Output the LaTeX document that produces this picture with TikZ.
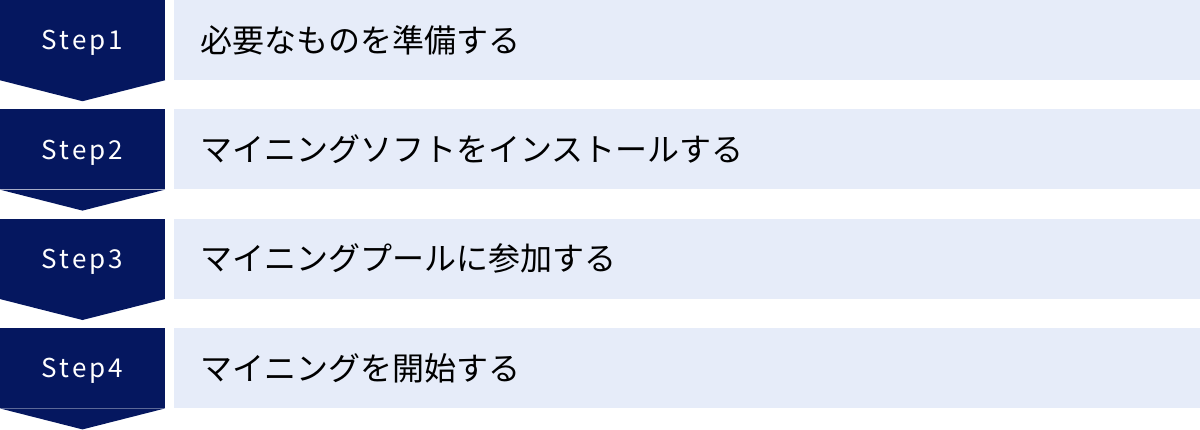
\documentclass[tikz,border=0pt]{standalone}
\usepackage{fontspec}
\setmainfont{Noto Sans CJK JP}
\newfontfamily\stepfont[LetterSpace=12]{Noto Sans CJK JP}
\usetikzlibrary{positioning,calc}
\definecolor{stepnavy}{HTML}{05175F}
\definecolor{tasklight}{HTML}{E6ECF9}

\tikzset{
  stepbox/.style={fill=stepnavy, text=white, minimum width=165pt, minimum height=80pt,
    inner sep=0pt, text depth=0pt, font=\stepfont\fontsize{26}{30}\selectfont},
  taskbox/.style={fill=tasklight, text=black, minimum height=80pt, text width=974pt,
    inner xsep=26pt, inner ysep=0pt, align=left, font=\fontsize{32}{38}\selectfont},
  tip/.style={fill=stepnavy}
}

\begin{document}
\begin{tikzpicture}[x=1pt,y=1pt]
      \useasboundingbox (0,0) rectangle (1200,-429);

      \node (s1) [stepbox] at (82.5,-40) {Step1};
      \node (s2) [stepbox, below = 29pt of s1] {Step2};
      \node (s3) [stepbox, below = 29pt of s2] {Step3};
      \node (s4) [stepbox, below = 29pt of s3] {Step4};

      \node (t1) [taskbox, right = 9pt of s1] {必要なものを準備する};
      \node (t2) [taskbox, right = 9pt of s2] {マイニングソフトをインストールする};
      \node (t3) [taskbox, right = 9pt of s3] {マイニングプールに参加する};
      \node (t4) [taskbox, right = 9pt of s4] {マイニングを開始する};

      % arrow tips under each step
      \fill[tip] (s1.south west) -- (s1.south east) -- ($(s1.south)+(0,-21)$) -- cycle;
      \fill[tip] (s2.south west) -- (s2.south east) -- ($(s2.south)+(0,-21)$) -- cycle;
      \fill[tip] (s3.south west) -- (s3.south east) -- ($(s3.south)+(0,-21)$) -- cycle;
      \fill[tip] (s4.south west) -- (s4.south east) -- ($(s4.south)+(0,-21)$) -- cycle;
    \end{tikzpicture}
\end{document}
